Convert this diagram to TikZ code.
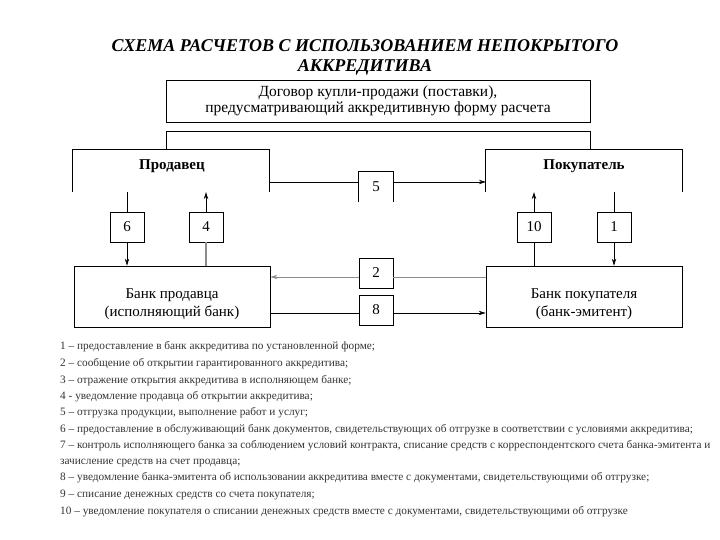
\documentclass[tikz,border=0pt]{standalone}
\usepackage{fontspec}
\setmainfont{Liberation Serif}
\usetikzlibrary{arrows.meta}
\tikzset{
  numbox/.style={draw, line width=0.8pt, minimum width=34pt, minimum height=30pt, inner sep=0pt, font=\fontsize{15}{15}\selectfont},
  bigbox/.style={draw, line width=0.8pt, minimum width=196pt, minimum height=61pt, inner sep=0pt},
  banktext/.style={align=center, inner sep=0pt, font=\fontsize{15}{18}\selectfont},
  openbox/.style={minimum width=196pt, minimum height=42pt, inner sep=0pt},
  conn/.style={line width=0.7pt},
  arr/.style={line width=0.7pt, -{Stealth[length=7pt,width=4.5pt]}},
  garr/.style={line width=1pt, black!45, -{Stealth[length=7pt,width=4.5pt]}},
  gconn/.style={line width=0.7pt, black!45},
  legend/.style={anchor=base west, inner sep=0pt, font=\fontsize{11.3}{12}\selectfont, text=black!80},
}
\begin{document}
\begin{tikzpicture}[x=1pt,y=-1pt]
\useasboundingbox (0,0) rectangle (720,540);
% title
\node[align=center, font=\fontsize{18}{20}\selectfont\bfseries\itshape] (title) at (365,57) {СХЕМА РАСЧЕТОВ С ИСПОЛЬЗОВАНИЕМ НЕПОКРЫТОГО\\АККРЕДИТИВА};
% contract
\node[draw, line width=0.8pt, minimum width=424pt, minimum height=42pt, inner sep=0pt, align=center, font=\fontsize{15.5}{17}\selectfont] (contract) at (378,101) {Договор купли-продажи (поставки),\\[-0.5pt]предусматривающий аккредитивную форму расчета};
% seller / buyer (open bottom)
\node[openbox] (seller) at (171,171) {};
\node[openbox] (buyer) at (584,171) {};
\draw[line width=0.8pt] (seller.south west) -- (seller.north west) -- (seller.north east) -- (seller.south east);
\draw[line width=0.8pt] (buyer.south west) -- (buyer.north west) -- (buyer.north east) -- (buyer.south east);
\node[font=\fontsize{15}{15}\selectfont\bfseries] (sellerlbl) at (172,166) {Продавец};
\node[font=\fontsize{15}{15}\selectfont\bfseries] (buyerlbl) at (584,166) {Покупатель};
% bracket from contract
\coordinate (brl) at (166,131);
\coordinate (brr) at (590,131);
\draw[line width=0.8pt] (brl |- seller.north) -- (brl) -- (brr) -- (brr |- buyer.north);
% box 5 (open bottom)
\node[minimum width=34pt, minimum height=30pt, inner sep=0pt, font=\fontsize{15}{15}\selectfont] (b5) at (376,187) {5};
\draw[line width=0.8pt] (b5.south west) -- (b5.north west) -- (b5.north east) -- (b5.south east);
\coordinate (y5) at (0,182);
\draw[conn] (seller.east |- y5) -- (b5.west |- y5);
\draw[arr] (b5.east |- y5) -- (buyer.west |- y5);
% banks
\node[bigbox] (sbank) at (172,296.5) {};
\node[bigbox] (bbank) at (584,296.5) {};
\node[banktext] (sbanktxt) at (172,304) {Банк продавца\\(исполняющий банк)};
\node[banktext] (bbanktxt) at (584,304) {Банк покупателя\\(банк-эмитент)};
% small boxes
\node[numbox] (b6) at (127,227) {6};
\node[numbox] (b4) at (206,227) {4};
\node[numbox] (b10) at (534,227) {10};
\node[numbox] (b1) at (614,227) {1};
\node[numbox] (b2) at (376,273) {2};
\node[numbox] (b8) at (376,310) {8};
% 6
\draw[conn] (b6.north |- seller.south) -- (b6.north);
\draw[arr] (b6.south) -- (b6.south |- sbank.north);
% 4
\draw[gconn, line width=1.2pt] (b4.south |- sbank.north) -- (b4.south);
\draw[arr] (b4.north) -- (b4.north |- seller.south);
% 10
\draw[conn] (b10.south |- bbank.north) -- (b10.south);
\draw[arr] (b10.north) -- (b10.north |- buyer.south);
% 1
\draw[conn] (b1.north |- buyer.south) -- (b1.north);
\draw[arr] (b1.south) -- (b1.south |- bbank.north);
% 2
\coordinate (y2) at (0,277);
\draw[gconn] (bbank.west |- y2) -- (b2.east |- y2);
\draw[garr, line width=0.7pt] (b2.west |- y2) -- (sbank.east |- y2);
% 8
\coordinate (y8) at (0,313);
\draw[conn] (sbank.east |- y8) -- (b8.west |- y8);
\draw[arr] (b8.east |- y8) -- (bbank.west |- y8);
% legend
\node[legend] (l1) at (60,349) {1 – предоставление в банк аккредитива по установленной форме;};
\node[legend] (l2) at (60,366) {2 – сообщение об открытии гарантированного аккредитива;};
\node[legend] (l3) at (60,383) {3 – отражение открытия аккредитива в исполняющем банке;};
\node[legend] (l4) at (60,399) {4 - уведомление продавца об открытии аккредитива;};
\node[legend] (l5) at (60,415) {5 – отгрузка продукции, выполнение работ и услуг;};
\node[legend] (l6) at (60,432) {6 – предоставление в обслуживающий банк документов, свидетельствующих об отгрузке в соответствии с условиями аккредитива;};
\node[legend] (l7) at (60,448) {7 – контроль исполняющего банка за соблюдением условий контракта, списание средств с корреспондентского счета банка-эмитента и};
\node[legend] (l7b) at (60,464) {зачисление средств на счет продавца;};
\node[legend] (l8) at (60,480) {8 – уведомление банка-эмитента об использовании аккредитива вместе с документами, свидетельствующими об отгрузке;};
\node[legend] (l9) at (60,497) {9 – списание денежных средств со счета покупателя;};
\node[legend] (l10) at (60,514) {10 – уведомление покупателя о списании денежных средств вместе с документами, свидетельствующими об отгрузке};
\end{tikzpicture}
\end{document}
